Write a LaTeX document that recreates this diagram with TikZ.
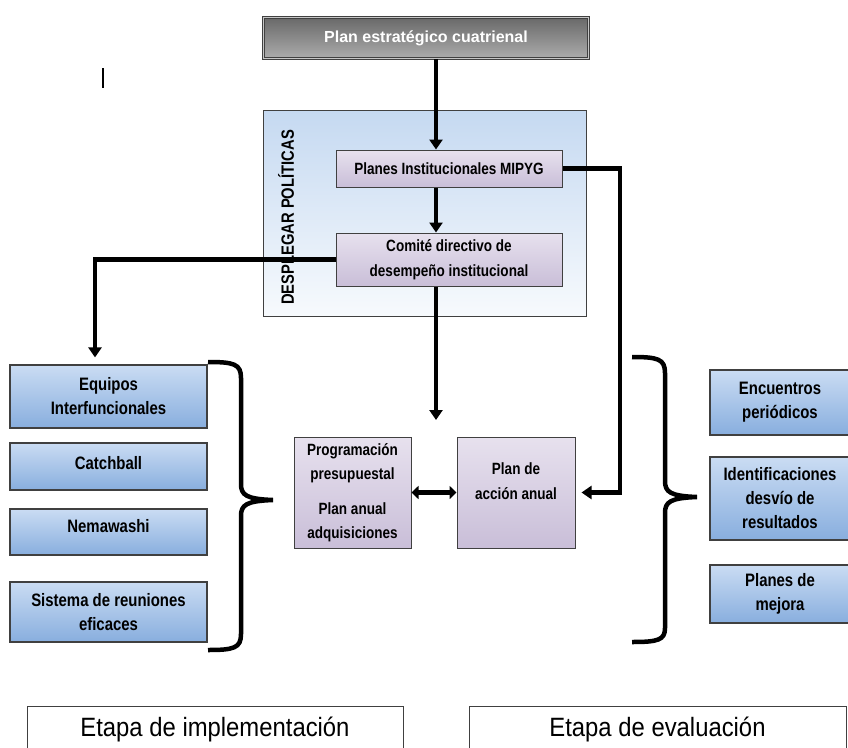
\documentclass[tikz,border=0pt]{standalone}
\usepackage{fontspec}
\setmainfont{Liberation Sans}
\newfontfamily\narrowfont[FakeStretch=0.83]{Liberation Sans}
\newfontfamily\etapafont[FakeStretch=0.9]{Liberation Sans}
\usetikzlibrary{arrows.meta}

\definecolor{borde}{RGB}{64,64,64}
\definecolor{grisarriba}{RGB}{105,105,105}
\definecolor{grisabajo}{RGB}{172,172,172}
\definecolor{marcoarriba}{RGB}{197,217,241}
\definecolor{marcoabajo}{RGB}{247,250,253}
\definecolor{lilaarriba}{RGB}{231,225,238}
\definecolor{lilaabajo}{RGB}{201,190,216}
\definecolor{azularriba}{RGB}{202,220,243}
\definecolor{azulabajo}{RGB}{136,174,222}

\begin{document}
\begin{tikzpicture}[x=1pt,y=-1pt,
    cajaazul/.style={draw=borde,line width=1.2pt,top color=azularriba,bottom color=azulabajo,align=center,inner sep=0pt,font=\narrowfont\bfseries\fontsize{18}{24}\selectfont},
    cajalila/.style={draw=borde,line width=1pt,top color=lilaarriba,bottom color=lilaabajo,align=center,inner sep=0pt,font=\narrowfont\bfseries\fontsize{16.3}{24.5}\selectfont},
    etapa/.style={draw=borde,line width=0.8pt,minimum height=46pt,inner sep=0pt,font=\etapafont\fontsize{26.5}{30}\selectfont},
    flecha/.style={line width=4.5pt,-{Triangle[length=10pt,width=13pt]}},
    llave/.style={line width=4.5pt}]
    \useasboundingbox (0,0) rectangle (848,747);
    \clip (0,0) rectangle (848,747);

    \node[draw=borde,line width=0.9pt,double=gray!45,double distance=1.2pt,top color=grisarriba,bottom color=grisabajo,
          minimum width=325pt,minimum height=41pt,text=white,font=\bfseries\fontsize{16}{19}\selectfont] (plan) at (426,38) {Plan estratégico cuatrienal};
    \draw[line width=1.3pt] (103,68) -- (103,88);

    \node[draw=borde,line width=1pt,top color=marcoarriba,bottom color=marcoabajo,minimum width=323pt,minimum height=206pt] (marco) at (424.5,213) {};
    \node[rotate=90,font=\narrowfont\bfseries\fontsize{17.8}{20}\selectfont] (desplegar) at (286,217.5) {DESPLEGAR POLÍTICAS};
    \node[cajalila,minimum width=226pt,minimum height=37pt] (planes) at (449,168.5) {Planes Institucionales MIPYG};
    \node[cajalila,minimum width=226pt,minimum height=53pt] (comite) at (449,259.5) {Comité directivo de\\desempeño institucional};

    \node[cajalila,minimum width=117pt,minimum height=111pt] (prog) at (352.5,492.5) {Programación\\presupuestal\\[10pt]Plan anual\\adquisiciones};
    \node[cajalila,minimum width=118pt,minimum height=111pt,text depth=23pt] (accion) at (516,492.5) {Plan de\\acción anual};

    \node[cajaazul,minimum width=197pt,minimum height=63pt] (equipos) at (108.5,396.5) {Equipos\\Interfuncionales};
    \node[cajaazul,minimum width=197pt,minimum height=47pt,text depth=8pt] (catchball) at (108.5,466.5) {Catchball};
    \node[cajaazul,minimum width=197pt,minimum height=46pt,text depth=13pt] (nemawashi) at (108.5,532) {Nemawashi};
    \node[cajaazul,minimum width=197pt,minimum height=60pt] (reuniones) at (108.5,612) {Sistema de reuniones\\eficaces};

    \node[cajaazul,minimum width=140pt,minimum height=65pt] (encuentros) at (780,402.5) {Encuentros\\periódicos};
    \node[cajaazul,minimum width=140pt,minimum height=83pt] (desvio) at (780,498.5) {Identificaciones\\desvío de\\resultados};
    \node[cajaazul,minimum width=140pt,minimum height=58pt] (mejora) at (780,594) {Planes de\\mejora};

    \node[etapa,minimum width=376pt] (implementacion) at (215,729) {Etapa de implementación};
    \node[etapa,minimum width=377pt] (evaluacion) at (657.5,729) {Etapa de evaluación};

    \coordinate (eje) at (436,0);
    \coordinate (bajada) at (95,0);
    \coordinate (retorno) at (620,0);
    \coordinate (punta) at (436,420);
    \draw[flecha] (plan.south -| eje) -- (planes.north -| eje);
    \draw[flecha] (planes.south -| eje) -- (comite.north -| eje);
    \draw[flecha,shorten >=7pt] (comite.west) -| (equipos.north -| bajada);
    \draw[flecha] (comite.south -| eje) -- (punta);
    \draw[flecha,shorten >=6pt] (planes.east) -| (retorno |- accion.east) -- (accion.east);
    \draw[line width=5pt,{Triangle[length=7pt,width=13pt]}-{Triangle[length=7pt,width=13pt]}] (prog.east) -- (accion.west);

    \draw[llave] (208,362) .. controls (234,362) and (241,364) .. (241,378) -- (241,484)
        .. controls (241,495) and (246,499) .. (273,500) .. controls (246,501) and (241,505) .. (241,516)
        -- (241,634) .. controls (241,648) and (234,650) .. (208,650);
    \draw[llave] (632,357) .. controls (658,357) and (665,359) .. (665,373) -- (665,481)
        .. controls (665,492) and (670,496) .. (697,497) .. controls (670,498) and (665,502) .. (665,513)
        -- (665,628) .. controls (665,640) and (658,642) .. (632,642);
\end{tikzpicture}
\end{document}
